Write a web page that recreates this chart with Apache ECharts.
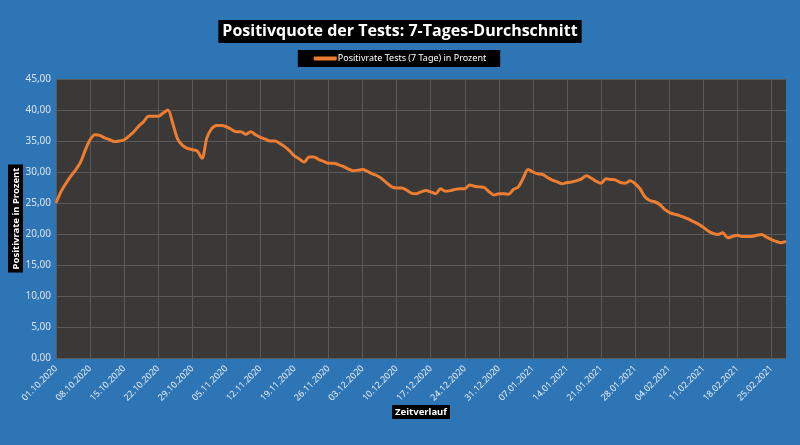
<!DOCTYPE html>
<html>
<head>
<meta charset="utf-8">
<script src="https://cdn.jsdelivr.net/npm/echarts@6/dist/echarts.min.js"></script>
<style>
html,body{margin:0;padding:0;background:#2e75b6;}
#c{width:800px;height:445px;}
</style>
</head>
<body>
<div id="c"></div>
<script>
// Category labels: daily dates 01.10.2020 .. 28.02.2021
const startDate = [2020, 9, 1];
const dayCount = 151;
const categories = [];
for (let i = 0; i < dayCount; i++) {
  const d = new Date(Date.UTC(startDate[0], startDate[1], startDate[2] + i));
  const dd = String(d.getUTCDate()).padStart(2, '0');
  const mm = String(d.getUTCMonth() + 1).padStart(2, '0');
  categories.push(dd + '.' + mm + '.' + d.getUTCFullYear());
}

const seriesName = 'Positivrate Tests (7 Tage) in Prozent';
const positivrate = [
  25.0, 26.8, 28.1, 29.3, 30.3, 31.5, 33.5, 35.2, 36.0, 35.9,
  35.5, 35.2, 34.9, 35.0, 35.2, 35.8, 36.5, 37.4, 38.1, 39.0,
  39.0, 39.0, 39.5, 40.0, 37.8, 35.3, 34.3, 33.8, 33.6, 33.4,
  32.2, 35.5, 37.0, 37.5, 37.5, 37.3, 36.9, 36.5, 36.5, 36.1,
  36.5, 36.0, 35.6, 35.3, 35.0, 35.0, 34.6, 34.1, 33.4, 32.6,
  32.1, 31.6, 32.4, 32.4, 32.0, 31.7, 31.4, 31.4, 31.2, 30.9,
  30.5, 30.2, 30.3, 30.4, 30.1, 29.7, 29.4, 28.9, 28.2, 27.6,
  27.4, 27.4, 27.1, 26.6, 26.5, 26.8, 27.0, 26.8, 26.5, 27.3,
  26.9, 27.0, 27.2, 27.3, 27.3, 27.9, 27.7, 27.6, 27.5, 26.8,
  26.3, 26.5, 26.5, 26.4, 27.2, 27.6, 29.0, 30.4, 30.0, 29.7,
  29.6, 29.1, 28.7, 28.4, 28.1, 28.3, 28.4, 28.6, 28.9, 29.4,
  29.0, 28.5, 28.2, 28.9, 28.8, 28.7, 28.3, 28.2, 28.6, 28.1,
  27.3, 26.0, 25.4, 25.2, 24.8, 24.0, 23.5, 23.2, 23.0, 22.7,
  22.4, 22.0, 21.6, 21.1, 20.5, 20.1, 19.9, 20.2, 19.4, 19.6,
  19.8, 19.6, 19.6, 19.6, 19.8, 19.9, 19.5, 19.1, 18.8, 18.6,
  18.8
];

const yMin = 0, yMax = 45, yStep = 5;

const chart = echarts.init(document.getElementById('c'), null, {renderer: 'canvas'});
chart.setOption({
  backgroundColor: '#2e75b6',
  animation: false,
  title: {
    text: 'Positivquote der Tests: 7-Tages-Durchschnitt',
    left: 'center',
    top: 20,
    backgroundColor: '#000000',
    padding: [3, 4, 3, 4],
    textStyle: {
      color: '#ffffff',
      fontFamily: 'Open Sans',
      fontWeight: 'bold',
      fontSize: 16,
      lineHeight: 17
    }
  },
  legend: {
    data: [{name: seriesName, icon: 'roundRect'}],
    left: 'center',
    top: 50,
    backgroundColor: '#000000',
    padding: [4, 14, 4, 16],
    itemWidth: 23,
    itemHeight: 4,
    itemGap: 0,
    textStyle: {color: '#ffffff', fontFamily: 'Noto Sans', fontSize: 9, padding: [0, 0, 0, -4]}
  },
  grid: {
    left: 56, right: 14, top: 79, bottom: 87,
    show: true,
    backgroundColor: '#3b3838',
    borderWidth: 0,
    containLabel: false,
    outerBoundsMode: 'none'
  },
  xAxis: {
    type: 'category',
    data: categories,
    boundaryGap: false,
    name: 'Zeitverlauf',
    nameLocation: 'middle',
    nameGap: 47,
    nameMoveOverlap: false,
    nameTextStyle: {
      color: '#ffffff', backgroundColor: '#000000', fontWeight: 'bold',
      fontFamily: 'Noto Sans', fontSize: 9.5, padding: [2, 3, 2, 3]
    },
    axisLine: {show: false},
    axisTick: {show: false},
    axisLabel: {
      interval: 6, rotate: 45, color: '#e8edf5',
      fontFamily: 'Noto Sans', fontSize: 9, margin: 9
    },
    splitLine: {show: true, interval: 6, lineStyle: {color: '#5b5959', width: 1}}
  },
  yAxis: {
    type: 'value',
    min: yMin, max: yMax, interval: yStep,
    name: 'Positivrate in Prozent',
    nameLocation: 'middle',
    nameGap: 33,
    nameMoveOverlap: false,
    nameRotate: 90,
    nameTextStyle: {
      color: '#ffffff', backgroundColor: '#000000', fontWeight: 'bold',
      fontFamily: 'Noto Sans', fontSize: 9.5, padding: [3, 3, 2, 3]
    },
    axisLine: {show: false},
    axisTick: {show: false},
    axisLabel: {
      color: '#d9e1ec', fontFamily: 'Noto Sans', fontSize: 10, margin: 5,
      formatter: v => v.toFixed(2).replace('.', ',')
    },
    splitLine: {show: true, lineStyle: {color: '#5b5959', width: 1}}
  },
  series: [{
    name: seriesName,
    type: 'line',
    data: positivrate,
    showSymbol: false,
    smooth: 0.3,
    lineStyle: {color: '#ed7d31', width: 3},
    itemStyle: {color: '#ed7d31'}
  }]
});
</script>
</body>
</html>
